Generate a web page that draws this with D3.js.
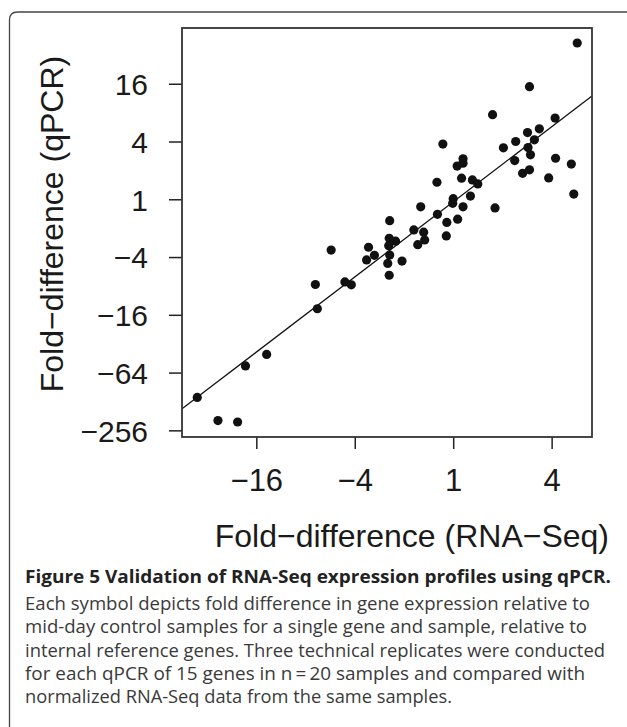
<!DOCTYPE html>
<html><head><meta charset="utf-8">
<script src="https://cdn.jsdelivr.net/npm/d3@7"></script>
<style>body{margin:0;background:#fff}</style>
</head><body>
<svg id="fig" width="627" height="727"></svg>
<script>
// log2 fold-differences: [RNA-Seq, qPCR]
const points = [
  [2.52, 5.41], [1.55, 3.90], [0.80, 2.93], [2.07, 2.81], [1.75, 2.44],
  [1.51, 2.31], [1.27, 2.00], [1.65, 2.06], [1.02, 1.78], [1.52, 1.79],
  [1.57, 1.54], [-0.21, 1.91], [1.25, 1.34], [2.08, 1.42], [2.40, 1.22],
  [0.20, 1.40], [0.20, 1.25], [0.08, 1.15], [1.41, 0.90], [1.55, 1.02],
  [1.94, 0.74], [0.17, 0.73], [0.39, 0.67], [0.50, 0.53], [-0.33, 0.59],
  [2.45, 0.18], [0.00, 0.02], [0.35, 0.11], [-0.01, -0.14], [0.20, -0.26],
  [0.85, -0.30], [-0.66, -0.26], [-0.32, -0.52], [-0.13, -0.80], [0.09, -0.69],
  [-1.29, -0.74], [-0.80, -1.06], [-0.60, -1.14], [-0.58, -1.41], [-0.72, -1.57],
  [-0.14, -1.27], [-1.30, -1.35], [-1.17, -1.45], [-1.31, -1.61], [-2.48, -1.76],
  [-1.72, -1.66], [-1.60, -1.94], [-1.76, -2.10], [-1.29, -1.93], [-1.04, -2.14],
  [-1.33, -2.22], [-1.30, -2.63], [-2.80, -2.95], [-2.20, -2.86], [-2.07, -2.96],
  [-2.76, -3.79], [-3.79, -5.37], [-4.22, -5.77], [-5.20, -6.86], [-4.78, -7.66],
  [-4.38, -7.71]
];
const fit = { slope: 1.30, intercept: -0.09 };
const xTicks = [-4, -2, 0, 2];
const yTicks = [4, 2, 0, -2, -4, -6, -8];
const xDomain = [-5.51, 2.82];
const yDomain = [-8.23, 5.93];
const captionTitle = 'Figure 5 Validation of RNA-Seq expression profiles using qPCR.';
const captionLines = [
  'Each symbol depicts fold difference in gene expression relative to',
  'mid-day control samples for a single gene and sample, relative to',
  'internal reference genes. Three technical replicates were conducted',
  'for each qPCR of 15 genes in n\u2009=\u200920 samples and compared with',
  'normalized RNA-Seq data from the same samples.'
];

const fold = k => k >= 0 ? String(2 ** k) : '\u2212' + 2 ** (-k);

const svg = d3.select('#fig');
const L = 182, R = 592, T = 28, B = 437;
const x = d3.scaleLinear().domain(xDomain).range([L, R]);
const y = d3.scaleLinear().domain(yDomain).range([B, T]);
const font = 'Liberation Sans, Arial, sans-serif';

// outer frame (rounded top corners, open bottom)
svg.append('path')
  .attr('d', 'M9.5,760 V20 Q9.5,12 17.5,12 H640')
  .attr('fill', 'none').attr('stroke', '#444').attr('stroke-width', 1.3);

const clip = svg.append('clipPath').attr('id', 'pc');
clip.append('rect').attr('x', L).attr('y', T).attr('width', R - L).attr('height', B - T);

// axes
const xa = svg.append('g').attr('transform', `translate(0,${B})`)
  .call(d3.axisBottom(x).tickValues(xTicks).tickFormat(fold).tickSize(12).tickPadding(20));
const ya = svg.append('g').attr('transform', `translate(${L},0)`)
  .call(d3.axisLeft(y).tickValues(yTicks).tickFormat(fold).tickSize(13).tickPadding(21));
[xa, ya].forEach(g => {
  g.select('.domain').remove();
  g.selectAll('line').attr('stroke', '#222').attr('stroke-width', 1.5);
  g.selectAll('text').attr('font-family', font).attr('font-size', 31).attr('fill', '#1a1a1a');
});
ya.selectAll('text').attr('font-size', 30).attr('dy', '0.36em');

// fit line
svg.append('line').attr('clip-path', 'url(#pc)')
  .attr('x1', x(xDomain[0])).attr('y1', y(fit.slope * xDomain[0] + fit.intercept))
  .attr('x2', x(xDomain[1])).attr('y2', y(fit.slope * xDomain[1] + fit.intercept))
  .attr('stroke', '#111').attr('stroke-width', 1.3);

svg.append('g').selectAll('circle').data(points).join('circle')
  .attr('cx', d => x(d[0])).attr('cy', d => y(d[1])).attr('r', 4.6).attr('fill', '#111');

svg.append('rect').attr('x', L).attr('y', T).attr('width', R - L).attr('height', B - T)
  .attr('fill', 'none').attr('stroke', '#333').attr('stroke-width', 1.8);

// axis titles
svg.append('text').attr('x', 609).attr('y', 547).attr('text-anchor', 'end')
  .attr('font-family', font).attr('font-size', 32).attr('fill', '#1a1a1a')
  .text('Fold\u2212difference (RNA\u2212Seq)');
svg.append('text').attr('transform', 'translate(63,224) rotate(-90)').attr('text-anchor', 'middle')
  .attr('font-family', font).attr('font-size', 32).attr('fill', '#1a1a1a')
  .text('Fold\u2212difference (qPCR)');

// caption
const cap = 'Open Sans, Noto Sans, sans-serif';
svg.append('text').attr('x', 25).attr('y', 583).attr('font-family', cap)
  .attr('font-size', 17.5).attr('font-weight', 'bold').attr('fill', '#222')
  .attr('textLength', 586).attr('lengthAdjust', 'spacingAndGlyphs').text(captionTitle);
const lens = [565, 562, 580, 560, 427];
svg.append('g').selectAll('text').data(captionLines).join('text')
  .attr('x', 25).attr('y', (d, i) => 610 + i * 23.3)
  .attr('font-family', cap).attr('font-size', 17.5).attr('fill', '#3a3a3a')
  .attr('textLength', (d, i) => lens[i]).attr('lengthAdjust', 'spacingAndGlyphs')
  .text(d => d);
</script>
</body></html>
